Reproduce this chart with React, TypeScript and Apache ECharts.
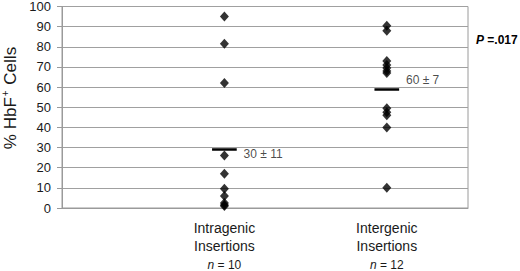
import React, { useEffect, useRef } from "react";
import * as echarts from "echarts";

const groupNames = ["Intragenic\nInsertions", "Intergenic\nInsertions"];
const groupN = [10, 12];
const intragenic = [95, 81.5, 62, 26, 17, 9.5, 6, 2.5, 1.5, 1];
const intergenic = [90.5, 88, 73, 71, 69.5, 68, 67, 49.5, 47.5, 46, 40, 10];
const meanLines = [29, 59];
const meanLabels = ["30 ± 11", "60 ± 7"];
const meanLabelPos = [[1.115, 26.8], [2.115, 63.3]];
const yTicks = [0, 100, 10];

export default function App() {
  const ref = useRef<HTMLDivElement>(null);
  useEffect(() => {
    if (!ref.current) return;
    const chart = echarts.init(ref.current, null, { renderer: "svg" });
    const font = "Liberation Sans, Arial, sans-serif";
    const pts = [
      ...intragenic.map((v) => [1, v]),
      ...intergenic.map((v) => [2, v]),
    ];
    chart.setOption({
      animation: false,
      textStyle: { fontFamily: font },
      grid: {
        left: 62,
        right: 52,
        top: 6.5,
        bottom: 61.5,
        show: true,
        borderColor: "#9a9a9a",
        borderWidth: 1,
        backgroundColor: "transparent",
      },
      xAxis: {
        type: "value",
        min: 0,
        max: 2.5,
        interval: 0.5,
        axisLine: { show: true, lineStyle: { color: "#9a9a9a" } },
        axisTick: { show: false },
        splitLine: { show: false },
        axisLabel: {
          margin: 11,
          color: "#1a1a1a",
          formatter: (v: number) => {
            const i = Math.round(v) - 1;
            if (Math.abs(v - Math.round(v)) > 1e-6 || i < 0 || i > 1) return "";
            const lines = groupNames[i].split("\n").map((l) => `{a|${l}}`).join("\n");
            return `${lines}\n{n|n}{m| = ${groupN[i]}}`;
          },
          rich: {
            a: { fontSize: 14, lineHeight: 18, fontFamily: font, color: "#1a1a1a" },
            n: { fontSize: 12, lineHeight: 20, fontStyle: "italic", fontFamily: font, color: "#1a1a1a" },
            m: { fontSize: 12, lineHeight: 20, fontFamily: font, color: "#1a1a1a" },
          },
        },
      },
      yAxis: {
        type: "value",
        min: yTicks[0],
        max: yTicks[1],
        interval: yTicks[2],
        axisLine: { show: true, lineStyle: { color: "#9a9a9a" } },
        axisTick: { show: true, length: 5, lineStyle: { color: "#9a9a9a" } },
        splitLine: { show: true, lineStyle: { color: "#a0a0a0", width: 1 } },
        axisLabel: { fontSize: 13, color: "#1a1a1a", margin: 11, fontFamily: font },
      },
      series: [
        {
          type: "scatter",
          data: pts,
          symbol: "diamond",
          symbolSize: [9, 10],
          itemStyle: { color: "#000" },
          markLine: {
            silent: true,
            symbol: "none",
            label: { show: false },
            lineStyle: { color: "#000", width: 2.5, type: "solid" },
            data: meanLines.map((m, i) => [
              { coord: [i + 0.924, m] },
              { coord: [i + 1.076, m] },
            ]),
          },
        },
        {
          type: "scatter",
          data: meanLabelPos.map((p, i) => ({ value: p, name: meanLabels[i] })),
          symbolSize: 1,
          itemStyle: { color: "rgba(0,0,0,0)" },
          label: {
            show: true,
            position: "right",
            distance: 0,
            formatter: (p: any) => p.name,
            fontSize: 12,
            color: "#1a1a1a",
            fontFamily: font,
          },
          labelLayout: { hideOverlap: false },
        },
      ],
      graphic: [
        {
          type: "text",
          x: 10,
          y: 98,
          rotation: Math.PI / 2,
          style: {
            text: "{a|% HbF}{s|+}{a| Cells}",
            align: "center",
            verticalAlign: "middle",
            fill: "#1a1a1a",
            rich: {
              a: { fontSize: 17, fontFamily: font, fill: "#1a1a1a", lineHeight: 20 },
              s: { fontSize: 10, fontFamily: font, fill: "#1a1a1a", padding: [0, 1, 9, 1], lineHeight: 20 },
            },
          },
        },
        {
          type: "text",
          x: 476,
          y: 40,
          style: {
            text: "{p|P} {v|=.017}",
            verticalAlign: "middle",
            rich: {
              p: { fontSize: 12, fontWeight: "bold", fontStyle: "italic", fontFamily: font, fill: "#000" },
              v: { fontSize: 12, fontWeight: "bold", fontFamily: font, fill: "#000" },
            },
          },
        },
      ],
    });
    return () => chart.dispose();
  }, []);
  return <div ref={ref} style={{ width: 520, height: 271, position: "absolute", left: 0, top: 0 }} />;
}
